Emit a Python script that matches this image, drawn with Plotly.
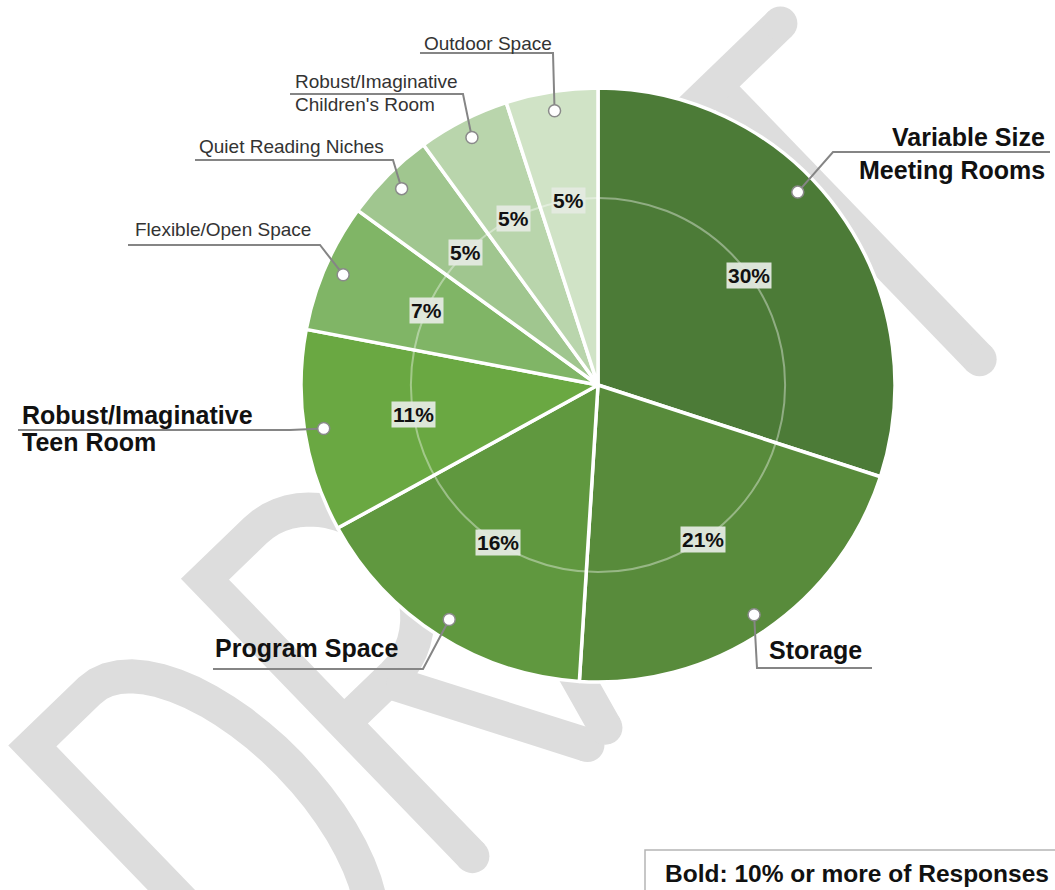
import math
import plotly.graph_objects as go

# ---------------- data ----------------
categories = [
    "Variable Size Meeting Rooms",
    "Storage",
    "Program Space",
    "Robust/Imaginative Teen Room",
    "Flexible/Open Space",
    "Quiet Reading Niches",
    "Robust/Imaginative Children's Room",
    "Outdoor Space",
]
values = [30, 21, 16, 11, 7, 5, 5, 5]
label_lines = [
    ["Variable Size", "Meeting Rooms"],
    ["Storage"],
    ["Program Space"],
    ["Robust/Imaginative", "Teen Room"],
    ["Flexible/Open Space"],
    ["Quiet Reading Niches"],
    ["Robust/Imaginative", "Children's Room"],
    ["Outdoor Space"],
]
bold_threshold = 10
note_text = "Bold: 10% or more of Responses"

# ---------------- style ----------------
colors = ["#4c7b37", "#588b3b", "#60983f", "#6aa842",
          "#80b566", "#a0c68f", "#b9d5ac", "#d0e3c6"]
FONT = "Liberation Sans, Arial, sans-serif"
W, H = 1055, 890
CX, CY, R = 598, 385, 297          # pie centre / radius in pixels
DOT_R = 0.935                       # dot radius fraction
PCT_R = 0.63                        # percent label / inner ring radius fraction
dot_angle_shift = [-8, 0, 0, 0, 0, 0, 0, 0]

# label placement (pixels): text x, line centres, anchor, underline y, underline far end, knee
label_pos = [
    dict(x=1047, ys=[137, 170], anchor="right", uy=152, far=1050, knee=833),
    dict(x=767, ys=[650], anchor="left", uy=668, far=872, knee=757),
    dict(x=213, ys=[648], anchor="left", uy=669, far=213, knee=423),
    dict(x=20, ys=[415, 442], anchor="left", uy=430, far=18, knee=290),
    dict(x=133, ys=[230], anchor="left", uy=245, far=128, knee=320),
    dict(x=197, ys=[147], anchor="left", uy=160, far=195, knee=393),
    dict(x=293, ys=[82, 105], anchor="left", uy=94, far=290, knee=463),
    dict(x=422, ys=[43], anchor="left", uy=53, far=420, knee=553),
]


def px(x):
    return x / W


def py(y):
    return 1 - y / H


fig = go.Figure()
fig.add_trace(go.Pie(
    labels=categories, values=values, sort=False, direction="clockwise", rotation=0,
    marker=dict(colors=colors, line=dict(color="white", width=3.5)),
    textinfo="none", hoverinfo="skip", showlegend=False,
    domain=dict(x=[px(CX - R), px(CX + R)], y=[py(CY + R), py(CY - R)]),
))

shapes = []
annotations = []

# ---------------- watermark (below the pie) ----------------
WM_ANG = math.radians(44)
E = (math.cos(WM_ANG), -math.sin(WM_ANG))
UP = (-math.sin(WM_ANG), -math.cos(WM_ANG))
WO = (490, 860)
WM_STROKE = 34
WM_COLOR = "#dddddd"


def wm(p, q):
    return (WO[0] + p * E[0] + q * UP[0], WO[1] + p * E[1] + q * UP[1])


def arc(cp, cq, rp, rq, n=28):
    out = []
    for i in range(n + 1):
        t = math.radians(90 - 180 * i / n)
        out.append((cp + rp * math.cos(t), cq + rq * math.sin(t)))
    return out


strokes = [
    ([(-250, 15), (-250, 400), (-170, 400)] + arc(-170, 207.5, 92, 192.5) + [(-250, 15)], True),
    ([(-10, 15), (-10, 400), (60, 400)] + arc(60, 300, 85, 100) + [(-10, 200)], False),
    ([(50, 200), (150, 15)], False),
    ([(175, 15), (275, 400), (375, 15)], False),
    ([(205, 130), (345, 130)], False),
    ([(450, 15), (450, 400), (600, 400)], False),
    ([(450, 220), (570, 220)], False),
    ([(700, 20), (700, 400)], False),
    ([(610, 400), (790, 400)], False),
]
caps = [(-10, 15), (150, 15), (175, 15), (375, 15), (450, 15), (600, 400),
        (570, 220), (700, 20), (610, 400), (790, 400)]

for pts, closed in strokes:
    ip = [wm(p, q) for p, q in pts]
    path = "M " + " L ".join(f"{px(x):.5f},{py(y):.5f}" for x, y in ip)
    if closed:
        path += " Z"
    shapes.append(dict(type="path", path=path, xref="paper", yref="paper", layer="below",
                       line=dict(color=WM_COLOR, width=WM_STROKE), fillcolor="rgba(0,0,0,0)"))
for p, q in caps:
    x, y = wm(p, q)
    r = WM_STROKE / 2
    shapes.append(dict(type="circle", xref="paper", yref="paper", layer="below",
                       x0=px(x - r), x1=px(x + r), y0=py(y + r), y1=py(y - r),
                       fillcolor=WM_COLOR, line=dict(width=0)))

# ---------------- inner ring ----------------
ri = R * PCT_R
shapes.append(dict(type="circle", xref="paper", yref="paper", layer="above",
                   x0=px(CX - ri), x1=px(CX + ri), y0=py(CY + ri), y1=py(CY - ri),
                   line=dict(color="rgba(255,255,255,0.38)", width=2)))

# ---------------- slice labels ----------------
total = sum(values)
cum = 0
for i, v in enumerate(values):
    mid = 360 * (cum + v / 2) / total
    cum += v
    a = math.radians(mid)
    # percent label on the inner ring
    tx, ty = CX + ri * math.sin(a), CY - ri * math.cos(a)
    annotations.append(dict(x=px(tx), y=py(ty), xref="paper", yref="paper", showarrow=False,
                            text=f"<b>{v}%</b>", xanchor="center", yanchor="middle",
                            font=dict(family=FONT, size=21, color="#111111"),
                            bgcolor="rgba(228,234,224,0.95)", borderpad=1))
    # connector dot
    ad = math.radians(mid + dot_angle_shift[i])
    dx, dy = CX + R * DOT_R * math.sin(ad), CY - R * DOT_R * math.cos(ad)
    lp = label_pos[i]
    path = (f"M {px(lp['far']):.5f},{py(lp['uy']):.5f} L {px(lp['knee']):.5f},{py(lp['uy']):.5f} "
            f"L {px(dx):.5f},{py(dy):.5f}")
    shapes.append(dict(type="path", path=path, xref="paper", yref="paper", layer="above",
                       line=dict(color="#858585", width=2), fillcolor="rgba(0,0,0,0)"))
    shapes.append(dict(type="circle", xref="paper", yref="paper", layer="above",
                       x0=px(dx - 6), x1=px(dx + 6), y0=py(dy + 6), y1=py(dy - 6),
                       fillcolor="white", line=dict(color="#8a8a8a", width=1.5)))
    bold = v >= bold_threshold
    for line, yy in zip(label_lines[i], lp["ys"]):
        annotations.append(dict(
            x=px(lp["x"]), y=py(yy), xref="paper", yref="paper", showarrow=False,
            text=f"<b>{line}</b>" if bold else line,
            xanchor=lp["anchor"], yanchor="middle",
            font=dict(family=FONT, size=25 if bold else 19,
                      color="#111111" if bold else "#333333")))

# ---------------- note box ----------------
shapes.append(dict(type="rect", xref="paper", yref="paper", layer="above",
                   x0=px(645), x1=px(1080), y0=py(900), y1=py(850),
                   fillcolor="white", line=dict(color="#b5b5b5", width=1.5)))
annotations.append(dict(x=px(663), y=py(873), xref="paper", yref="paper", showarrow=False,
                        text=f"<b>{note_text}</b>", xanchor="left", yanchor="middle",
                        font=dict(family=FONT, size=24.5, color="#111111")))

fig.update_layout(
    width=W, height=H, autosize=False,
    margin=dict(l=0, r=0, t=0, b=0),
    paper_bgcolor="white", plot_bgcolor="white",
    shapes=shapes, annotations=annotations,
)

fig.write_html("out.html", config={"displayModeBar": False},
               post_script="document.body.style.margin='0';document.body.style.overflow='hidden';")
